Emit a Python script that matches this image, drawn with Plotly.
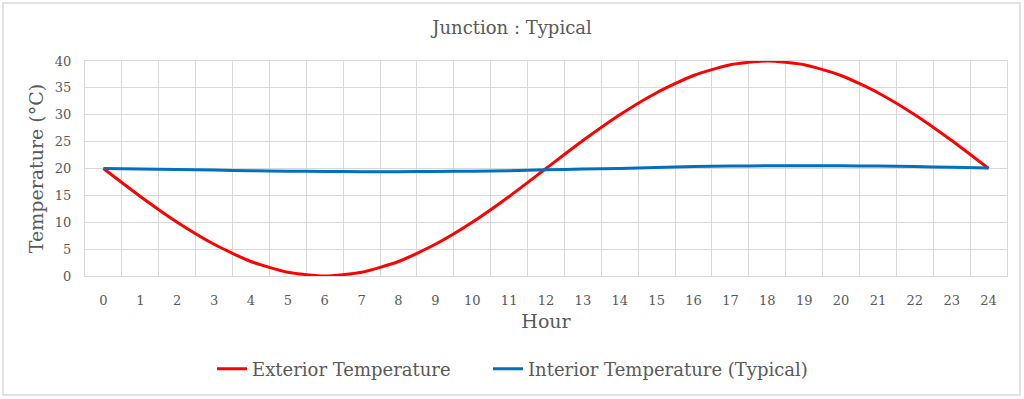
import plotly.graph_objects as go

hours = list(range(25))
hour_labels = [str(h) for h in hours]
exterior = [20, 14.8, 10, 5.9, 2.7, 0.7, 0, 0.7, 2.7, 5.9, 10, 14.8, 20,
            25.2, 30, 34.1, 37.3, 39.3, 40, 39.3, 37.3, 34.1, 30, 25.2, 20]
interior = [20, 19.9, 19.8, 19.7, 19.6, 19.5, 19.45, 19.4, 19.4, 19.45, 19.5, 19.6, 19.75,
            19.9, 20.0, 20.2, 20.35, 20.45, 20.5, 20.5, 20.5, 20.45, 20.35, 20.25, 20.1]

FONT = "DejaVu Serif"
GRAY = "#595959"
GRID = "#D9D9D9"

fig = go.Figure()
fig.add_trace(go.Scatter(x=hours, y=exterior, mode="lines", name="Exterior Temperature",
                         legend="legend",
                         line=dict(color="#FF0000", width=3, shape="spline", smoothing=0.6)))
fig.add_trace(go.Scatter(x=hours, y=interior, mode="lines", name="Interior Temperature (Typical)",
                         legend="legend2",
                         line=dict(color="#0070C0", width=3, shape="spline", smoothing=0.6)))

W, H = 1024, 399
ml, mr, mt, mb = 85, 17, 61, 123
pw, ph = W - ml - mr, H - mt - mb

def px(x):
    return (x - ml) / pw

def py(y):
    return (H - mb - y) / ph

legend_style = dict(orientation="h", xanchor="left", y=py(369), yanchor="middle",
                    font=dict(family=FONT, size=18, color=GRAY), itemwidth=30,
                    bgcolor="rgba(0,0,0,0)")

fig.update_layout(
    width=W, height=H,
    margin=dict(l=ml, r=mr, t=mt, b=mb),
    paper_bgcolor="white", plot_bgcolor="white",
    font=dict(family=FONT, color=GRAY),
    title=dict(text="Junction : Typical", x=0.5, xref="container", xanchor="center",
               y=1 - 28 / H, yanchor="middle",
               font=dict(family=FONT, size=18, color=GRAY)),
    showlegend=True,
    legend=dict(x=px(212), **legend_style),
    legend2=dict(x=px(488), **legend_style),
    shapes=[dict(type="rect", xref="paper", yref="paper",
                 x0=px(3), x1=px(1020), y0=py(395), y1=py(3),
                 line=dict(color=GRID, width=1.5), layer="below")],
)

fig.update_xaxes(
    range=[-0.5, 24.5], tickmode="array", tickvals=hours, ticktext=hour_labels,
    showgrid=False, zeroline=False, ticks="outside", ticklen=12, tickcolor="rgba(0,0,0,0)",
    tickfont=dict(family=FONT, size=13, color=GRAY),
    minor=dict(tickmode="linear", tick0=-0.5, dtick=1, showgrid=True,
               gridcolor=GRID, gridwidth=1, ticks=""),
    showline=True, mirror=True, linecolor=GRID, linewidth=1,
    title=dict(text="Hour", font=dict(family=FONT, size=19, color=GRAY), standoff=8),
)
fig.update_yaxes(
    range=[0, 40], dtick=5, showgrid=True, gridcolor=GRID, gridwidth=1,
    zeroline=False, ticks="outside", ticklen=10, tickcolor="rgba(0,0,0,0)",
    tickfont=dict(family=FONT, size=13, color=GRAY),
    showline=True, mirror=True, linecolor=GRID, linewidth=1,
    title=dict(text="Temperature (°C)", font=dict(family=FONT, size=19, color=GRAY), standoff=6),
)

fig.write_html("out.html", config={"displayModeBar": False},
               post_script="document.body.style.margin='0';")
